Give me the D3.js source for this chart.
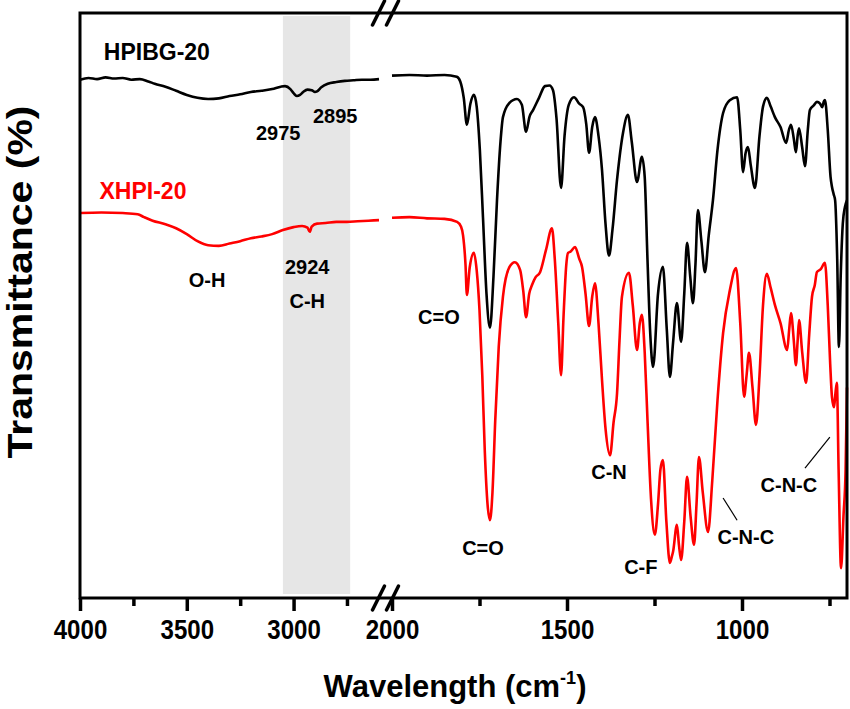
<!DOCTYPE html>
<html><head><meta charset="utf-8">
<script src="https://cdn.jsdelivr.net/npm/d3@7/dist/d3.min.js"></script>
<style>
body{margin:0;background:#fff;}
svg{display:block;font-family:"Liberation Sans",Arial,Helvetica,sans-serif;font-weight:bold;}
</style></head>
<body>
<svg id="chart" width="850" height="709"></svg>
<script>
// ---------- DATA ----------
// HPIBG-20 (black), high-wavenumber segment [wavenumber, transmittance a.u.]
const hpibgHigh = [[4000,88.6],[3960,88.9],[3920,88.7],[3880,89.0],[3840,88.8],[3800,88.9],[3760,88.6],[3720,88.7],[3680,88.3],[3650,87.9],[3600,87.4],[3550,86.7],[3500,86.0],[3450,85.5],[3400,85.3],[3350,85.4],[3300,85.8],[3250,86.1],[3200,86.5],[3150,86.7],[3100,87.0],[3060,87.4],[3040,87.5],[3015,87.0],[3000,86.3],[2985,85.8],[2970,86.0],[2955,86.5],[2935,86.9],[2915,86.8],[2900,86.5],[2890,86.6],[2870,87.3],[2840,87.9],[2800,88.2],[2760,88.4],[2720,88.5],[2680,88.6],[2640,88.6],[2600,88.7]];
// HPIBG-20 (black), fingerprint segment
const hpibgLow = [[2000,89.3],[1950,89.4],[1900,89.3],[1850,89.4],[1815,89.1],[1805,88.3],[1795,85.5],[1786,80.9],[1776,84.5],[1766,86.0],[1758,84.0],[1749,76.6],[1740,65],[1730,52],[1720,46.2],[1710,55],[1700,68.0],[1690,78],[1683,82.2],[1665,84.6],[1643,85.3],[1629,84.3],[1617,79.7],[1607,82.3],[1597,83.4],[1580,85.5],[1563,87.5],[1550,87.6],[1540,86.8],[1530,82],[1517,70.1],[1507,79],[1495,84.3],[1480,85.6],[1465,84.5],[1454,83.9],[1445,81],[1437,76.1],[1428,80.5],[1420,82.2],[1410,79],[1400,73.2],[1390,64],[1380,58.5],[1370,63],[1357,71.5],[1340,79.5],[1326,82.6],[1315,78],[1300,71.1],[1286,75.4],[1278,72],[1270,57.8],[1262,45],[1254,39.5],[1240,52],[1226,56.6],[1215,46],[1206,37.8],[1197,43.6],[1186,50.4],[1174,43.8],[1165,52],[1157,60.7],[1148,55],[1140,50.4],[1133,57],[1126,66.3],[1116,61],[1106,55.7],[1095,62],[1083,68.0],[1070,76.6],[1054,82.9],[1035,85.1],[1014,85.6],[1005,80],[997,72.8],[990,76],[983,77.1],[975,74],[963,70.1],[950,79],[940,84],[929,85.5],[918,84],[906,82.2],[890,80.5],[874,77.8],[866,80],[860,80.9],[852,78.5],[846,76.2],[841,79],[837,80.3],[828,77],[820,73.8],[812,80],[806,83.4],[795,84.2],[786,84.8],[777,84.5],[771,83.9],[766,84.9],[763,85.1],[755,80],[747,72],[743,70.3],[738,69],[734,68.0],[728,58],[723,42.9],[718,55],[712,64],[706,66.8],[700,68]];
// XHPI-20 (red), high-wavenumber segment
const xhpiHigh = [[4000,65.8],[3900,65.9],[3800,65.8],[3730,65.6],[3700,65.1],[3660,64.5],[3600,63.9],[3550,63.2],[3500,62.2],[3450,61.0],[3400,60.3],[3350,60.2],[3300,60.6],[3250,61.0],[3200,61.5],[3150,61.8],[3100,62.2],[3050,62.9],[3000,63.4],[2960,63.6],[2935,63.3],[2924,62.6],[2915,63.5],[2890,64.0],[2850,64.1],[2800,64.3],[2750,64.3],[2700,64.4],[2650,64.5],[2600,64.6]];
// XHPI-20 (red), fingerprint segment
const xhpiLow = [[2000,65.0],[1950,65.1],[1900,64.9],[1850,64.8],[1814,64.3],[1803,63.5],[1797,62.0],[1790,57],[1786,51.8],[1778,56.5],[1766,59.0],[1758,56],[1750,49.2],[1742,38],[1735,25.3],[1727,16],[1720,13.3],[1713,18],[1705,30.4],[1695,43],[1683,51.5],[1665,56.5],[1649,57.4],[1634,56.1],[1625,52.5],[1617,48.0],[1608,52],[1600,53.5],[1590,54.8],[1577,55.7],[1560,59.5],[1543,63.2],[1535,58],[1525,47],[1517,38.1],[1510,48],[1502,57],[1497,59.0],[1490,59.2],[1477,60.0],[1465,58],[1457,56.6],[1447,52],[1437,46.5],[1428,51.5],[1420,53.8],[1410,47],[1400,37.3],[1390,29],[1377,24.4],[1367,30],[1357,35.0],[1350,44],[1343,51.5],[1323,55.6],[1312,50],[1300,42.4],[1292,47],[1286,48.4],[1278,42],[1270,30.4],[1260,17],[1249,10.8],[1240,16],[1233,22],[1226,23.6],[1216,13],[1206,6.0],[1200,7.2],[1197,7.9],[1186,12.5],[1180,9],[1174,6.5],[1165,13],[1157,20.7],[1147,14],[1137,9.1],[1130,16],[1123,24.1],[1112,18],[1097,11.3],[1085,20],[1070,33.8],[1054,45.3],[1035,52.5],[1017,56.4],[1005,47],[994,34.4],[987,38],[980,41.9],[970,36],[960,29.6],[950,38],[940,50],[929,55.4],[918,53],[906,50.1],[890,47],[871,42.4],[865,46],[860,48.7],[852,44],[846,39.8],[841,44],[837,47.5],[828,42],[817,36.8],[808,45],[800,51.5],[792,53.5],[786,55.7],[775,56.2],[763,57.3],[755,50],[748,40],[743,34.4],[737,32.6],[733,35],[729,36.8],[724,22],[717,5.1],[710,14],[704,21.9],[700,36]];

const highDomain = [4000, 2600];
const lowDomain = [2000, 700];
const highMajor = [4000, 3500, 3000];
const highMinor = [3750, 3250, 2750];
const lowMajor = [2000, 1500, 1000];
const lowMinor = [1750, 1250, 750];
const shadedBand = [3050, 2735];

const seriesLabels = [
  {text:"HPIBG-20", wn:3640, v:93.3, color:"#000"},
  {text:"XHPI-20", wn:3705, v:69.7, color:"#ff0000"}
];
const peakLabels = [
  {text:"2975", wn:3072, v:79.5},
  {text:"2895", wn:2805, v:82.4},
  {text:"O-H", wn:3405, v:54.4},
  {text:"2924", wn:2936, v:56.6},
  {text:"C-H", wn:2936, v:50.8},
  {text:"C=O", wn:1866, v:48.0},
  {text:"C=O", wn:1740, v:8.5},
  {text:"C-N", wn:1380, v:21.5},
  {text:"C-F", wn:1289, v:5.3},
  {text:"C-N-C", wn:989, v:10.4},
  {text:"C-N-C", wn:866, v:19.3}
];
const leaders = [
  [[1054,17.1],[1014,13.3]],
  [[820,22.2],[749,27.5]]
];

// ---------- LAYOUT ----------
const L = 80, R = 847, T = 13, B = 598;
const svg = d3.select("#chart");
const xHigh = d3.scaleLinear().domain(highDomain).range([L, 379]);
const xLow = d3.scaleLinear().domain(lowDomain).range([392, R]);
const y = d3.scaleLinear().domain([0, 100]).range([B, T]);
const xAny = wn => wn > 2300 ? xHigh(wn) : xLow(wn);

// shaded band
svg.append("rect")
  .attr("x", xHigh(shadedBand[0])).attr("y", T + 3)
  .attr("width", xHigh(shadedBand[1]) - xHigh(shadedBand[0]))
  .attr("height", B - T - 7)
  .attr("fill", "#e6e6e6");

// lines
function drawLine(data, x, color) {
  const line = d3.line().x(d => x(d[0])).y(d => y(d[1])).curve(d3.curveMonotoneX);
  svg.append("path").datum(data).attr("d", line)
    .attr("fill", "none").attr("stroke", color)
    .attr("stroke-width", 2.6).attr("stroke-linejoin", "round");
}
drawLine(hpibgHigh, xHigh, "#000");
drawLine(hpibgLow, xLow, "#000");
drawLine(xhpiHigh, xHigh, "#ff0000");
drawLine(xhpiLow, xLow, "#ff0000");

// frame
svg.append("rect").attr("x", L).attr("y", T).attr("width", R - L).attr("height", B - T)
  .attr("fill", "none").attr("stroke", "#000").attr("stroke-width", 3);

// axes
function addAxis(scale, major, minor) {
  const gMaj = svg.append("g").attr("transform", `translate(0,${B})`)
    .call(d3.axisBottom(scale).tickValues(major).tickSize(13).tickFormat(d3.format("d")));
  gMaj.select(".domain").remove();
  gMaj.selectAll("line").attr("stroke-width", 3.5);
  gMaj.selectAll("text").attr("y", 41).attr("dy", null)
    .attr("font-size", 28).attr("font-weight", "bold").attr("fill", "#000")
    .attr("font-family", '"Liberation Sans",Arial,sans-serif')
    .attr("transform", "scale(0.86,1)");
  const gMin = svg.append("g").attr("transform", `translate(0,${B})`)
    .call(d3.axisBottom(scale).tickValues(minor).tickSize(8).tickFormat(""));
  gMin.select(".domain").remove();
  gMin.selectAll("line").attr("stroke-width", 3.5);
}
addAxis(xHigh, highMajor, highMinor);
addAxis(xLow, lowMajor, lowMinor);

// break marks
const bx = (xHigh(highDomain[1]) + xLow(lowDomain[0])) / 2;
[T, B].forEach(yy => {
  [-7, 7].forEach(off => {
    svg.append("line")
      .attr("x1", bx + off - 6).attr("y1", yy + 12)
      .attr("x2", bx + off + 6).attr("y2", yy - 12)
      .attr("stroke", "#000").attr("stroke-width", 3.5).attr("stroke-linecap", "round");
  });
});

// labels
seriesLabels.forEach(s => {
  svg.append("text").attr("x", xAny(s.wn)).attr("y", y(s.v)).attr("dy", "0.36em")
    .attr("text-anchor", "middle").attr("font-size", 23).attr("fill", s.color).text(s.text);
});
peakLabels.forEach(p => {
  svg.append("text").attr("x", xAny(p.wn)).attr("y", y(p.v)).attr("dy", "0.36em")
    .attr("text-anchor", "middle").attr("font-size", 20).attr("fill", "#000").text(p.text);
});
leaders.forEach(l => {
  svg.append("line")
    .attr("x1", xLow(l[0][0])).attr("y1", y(l[0][1]))
    .attr("x2", xLow(l[1][0])).attr("y2", y(l[1][1]))
    .attr("stroke", "#000").attr("stroke-width", 1.2);
});

// axis titles
const xt = svg.append("text").attr("x", 455).attr("y", 697).attr("text-anchor", "middle")
  .attr("font-size", 31).attr("fill", "#000");
xt.append("tspan").text("Wavelength (cm");
xt.append("tspan").attr("font-size", 18).attr("dy", -13).text("-1");
xt.append("tspan").attr("dy", 13).text(")");

svg.append("text").attr("transform", "translate(32,282) rotate(-90) scale(1,0.85)")
  .attr("text-anchor", "middle").attr("font-size", 41).attr("fill", "#000")
  .text("Transmittance (%)");
</script>
</body></html>
